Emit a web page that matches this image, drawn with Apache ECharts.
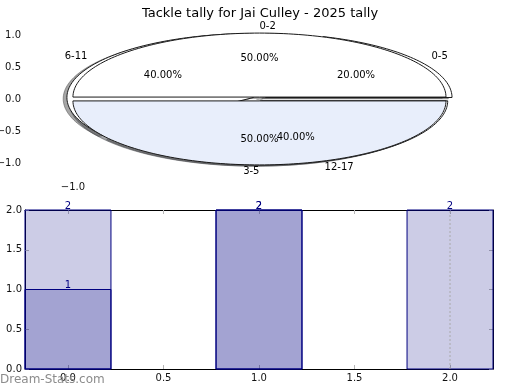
<!DOCTYPE html>
<html>
<head>
<meta charset="utf-8">
<script src="https://cdn.jsdelivr.net/npm/echarts@6/dist/echarts.min.js"></script>
<style>html,body{margin:0;padding:0;background:#fff}#c{width:520px;height:390px}</style>
</head>
<body>
<div id="c"></div>
<script>
// ---- data ----
const titleText = 'Tackle tally for Jai Culley - 2025 tally';
const pie1Labels = ['0-5', '6-11', '12-17'];
const pie1Values = [1, 2, 2];
const pie2Labels = ['0-2', '3-5'];
const pie2Values = [1, 1];
const barPositions = [0, 1, 2];
const barSeriesA = [2, 2, 2];
const barSeriesB = [1, 2, null];
const pieXTicks = [-1];
const pieYTicks = [-1, -0.5, 0, 0.5, 1];
const barXTicks = [0, 0.5, 1, 1.5, 2];
const barYTicks = [0, 0.5, 1, 1.5, 2];

// ---- styles ----
const pie1Colors = ['#ffffff', '#ffffff', '#ffffff'];
const pie1Explode = [0.04, 0.04, 0.03];
const pie2Colors = ['#ffffff', '#e8eefb'];
const pie2Explode = [0.03, 0.03];
const FONT = '"DejaVu Sans", sans-serif';
const TICK = '#b5b5b5';
const NAVY = '#000080';
const BAR_W = 0.45;

function buildPie(labels, values, colors, explode) {
  const total = values.reduce((a, b) => a + b, 0);
  let cum = 0;
  return values.map((v, i) => {
    const a1 = cum, a2 = cum + 360 * v / total;
    cum = a2;
    const mid = (a1 + a2) / 2 * Math.PI / 180;
    const ex = explode[i];
    return {
      a1, a2, mid,
      cx: ex * Math.cos(mid), cy: ex * Math.sin(mid),
      r: 1, color: colors[i], label: labels[i],
      pct: (100 * v / total).toFixed(2) + '%'
    };
  });
}
const slices = buildPie(pie1Labels, pie1Values, pie1Colors, pie1Explode)
  .concat(buildPie(pie2Labels, pie2Values, pie2Colors, pie2Explode));
const sliceData = slices.map((s, i) => [i, 0]);

function wedgePts(api, s, dx, dy) {
  const pts = [api.coord([s.cx + dx, s.cy + dy])];
  const steps = Math.max(8, Math.ceil((s.a2 - s.a1) / 1.5));
  for (let k = 0; k <= steps; k++) {
    const a = (s.a1 + (s.a2 - s.a1) * k / steps) * Math.PI / 180;
    pts.push(api.coord([s.cx + dx + s.r * Math.cos(a), s.cy + dy + s.r * Math.sin(a)]));
  }
  return pts;
}
function shadowColor(hex) {
  const n = parseInt(hex.slice(1), 16);
  const r = Math.round(((n >> 16) & 255) * 0.3), g = Math.round(((n >> 8) & 255) * 0.3), b = Math.round((n & 255) * 0.3);
  return 'rgba(' + r + ',' + g + ',' + b + ',0.5)';
}

function barSeries(values, name) {
  return {
    type: 'custom', name, xAxisIndex: 2, yAxisIndex: 2, z: 3,
    data: barPositions.map((p, i) => [p, values[i]]).filter(d => d[1] != null),
    renderItem: function (params, api) {
      const x = api.value(0), v = api.value(1);
      const tl = api.coord([x - BAR_W / 2, v]);
      const br = api.coord([x + BAR_W / 2, 0]);
      const c = api.coord([x, v]);
      return {
        type: 'group', children: [
          { type: 'rect', shape: { x: tl[0], y: tl[1], width: br[0] - tl[0], height: br[1] - tl[1] },
            style: { fill: 'rgba(0,0,128,0.2)', stroke: NAVY, lineWidth: 1 } },
          { type: 'text', style: { text: String(v), x: c[0], y: c[1] + 1, align: 'center', verticalAlign: 'bottom',
            fontSize: 10, fontFamily: FONT, fill: NAVY } }
        ]
      };
    }
  };
}

const fmt = v => v.toFixed(1).replace('-', '\u2212');

const option = {
  animation: false,
  backgroundColor: '#fff',
  textStyle: { fontFamily: FONT },
  title: { text: titleText, left: 'center', top: 2,
    textStyle: { fontSize: 13, fontWeight: 'normal', color: '#000', fontFamily: FONT } },
  graphic: [{ type: 'text', left: 0, top: 374, z: 100,
    style: { text: 'Dream-Stats.com', fontSize: 12, fontFamily: FONT, fill: '#8c8c8c' } }],
  grid: [
    { left: 28, top: 22, width: 462, height: 153, containLabel: false, outerBoundsMode: 'none' },
    { left: 25, top: 210, width: 468, height: 159, containLabel: false, outerBoundsMode: 'none' }
  ],
  xAxis: [
    { type: 'value', gridIndex: 0, position: 'bottom', min: -1.241, max: 1.236,
      axisLine: { show: false }, splitLine: { show: false },
      axisTick: { show: true, customValues: pieXTicks, length: 3, lineStyle: { color: TICK } },
      axisLabel: { customValues: pieXTicks, formatter: fmt, fontSize: 10, color: '#111', margin: 7 } },
    { type: 'value', gridIndex: 0, position: 'top', min: -1.241, max: 1.236,
      axisLine: { show: false }, splitLine: { show: false },
      axisTick: { show: true, customValues: pieXTicks, length: 3, lineStyle: { color: TICK } },
      axisLabel: { show: false } },
    { type: 'value', gridIndex: 1, position: 'bottom', min: -0.225, max: 2.225,
      axisLine: { show: true, onZero: false, lineStyle: { color: '#000', width: 1 } }, splitLine: { show: false },
      axisTick: { show: true, inside: true, customValues: barXTicks, length: 4, lineStyle: { color: TICK } },
      axisLabel: { customValues: barXTicks, formatter: fmt, fontSize: 10, color: '#111', margin: 4 } },
    { type: 'value', gridIndex: 1, position: 'top', min: -0.225, max: 2.225,
      axisLine: { show: true, onZero: false, lineStyle: { color: '#000', width: 1 } }, splitLine: { show: false },
      axisTick: { show: true, inside: true, customValues: barXTicks, length: 4, lineStyle: { color: TICK } },
      axisLabel: { show: false } }
  ],
  yAxis: [
    { type: 'value', gridIndex: 0, position: 'left', min: -1.1875, max: 1.203,
      axisLine: { show: false }, splitLine: { show: false },
      axisTick: { show: true, customValues: pieYTicks, length: 3, lineStyle: { color: TICK } },
      axisLabel: { customValues: pieYTicks, formatter: fmt, fontSize: 10, color: '#111', margin: 7 } },
    { type: 'value', gridIndex: 0, position: 'right', min: -1.1875, max: 1.203,
      axisLine: { show: false }, splitLine: { show: false },
      axisTick: { show: true, customValues: pieYTicks, length: 3, lineStyle: { color: TICK } },
      axisLabel: { show: false } },
    { type: 'value', gridIndex: 1, position: 'left', min: 0, max: 2, interval: 0.5,
      axisLine: { show: true, onZero: false, lineStyle: { color: '#000', width: 1 } }, splitLine: { show: false },
      axisTick: { show: true, inside: true, length: 4, lineStyle: { color: TICK } },
      axisLabel: { formatter: fmt, fontSize: 10, color: '#111', margin: 3 } },
    { type: 'value', gridIndex: 1, position: 'right', min: 0, max: 2, interval: 0.5,
      axisLine: { show: true, onZero: false, lineStyle: { color: '#000', width: 1 } }, splitLine: { show: false },
      axisTick: { show: true, inside: true, length: 4, lineStyle: { color: TICK } },
      axisLabel: { show: false } }
  ],
  series: [
    { type: 'custom', name: 'shadows', xAxisIndex: 0, yAxisIndex: 0, z: 1, data: sliceData, clip: false,
      renderItem: function (params, api) {
        const s = slices[api.value(0)];
        return { type: 'polygon', shape: { points: wedgePts(api, s, -0.02, -0.02) },
          style: { fill: shadowColor(s.color), stroke: shadowColor(s.color), lineWidth: 1 } };
      } },
    { type: 'custom', name: 'wedges', xAxisIndex: 0, yAxisIndex: 0, z: 2, data: sliceData, clip: false,
      renderItem: function (params, api) {
        const s = slices[api.value(0)];
        return { type: 'polygon', shape: { points: wedgePts(api, s, 0, 0) },
          style: { fill: s.color, stroke: '#1a1a1a', lineWidth: 1 } };
      } },
    { type: 'custom', name: 'pielabels', xAxisIndex: 0, yAxisIndex: 0, z: 5, data: sliceData, clip: false,
      renderItem: function (params, api) {
        const s = slices[api.value(0)];
        const c = Math.cos(s.mid), sn = Math.sin(s.mid);
        const lp = api.coord([s.cx + 1.1 * s.r * c, s.cy + 1.1 * s.r * sn]);
        const pp = api.coord([s.cx + 0.6 * s.r * c, s.cy + 0.6 * s.r * sn]);
        return { type: 'group', children: [
          { type: 'text', style: { text: s.label, x: lp[0], y: lp[1], align: c > 0 ? 'left' : 'right',
            verticalAlign: 'middle', fontSize: 10, fontFamily: FONT, fill: '#000' } },
          { type: 'text', style: { text: s.pct, x: pp[0], y: pp[1], align: 'center',
            verticalAlign: 'middle', fontSize: 10, fontFamily: FONT, fill: '#000' } }
        ] };
      } },
    barSeries(barSeriesA, 'A'),
    barSeries(barSeriesB, 'B'),
    { type: 'line', name: 'marker', xAxisIndex: 2, yAxisIndex: 2, z: 4, symbol: 'none',
      data: [[2, 0], [2, 2]], lineStyle: { color: '#aaa', width: 1, type: [2, 2] } }
  ]
};
echarts.init(document.getElementById('c'), null, { renderer: 'canvas' }).setOption(option);
</script>
</body>
</html>
